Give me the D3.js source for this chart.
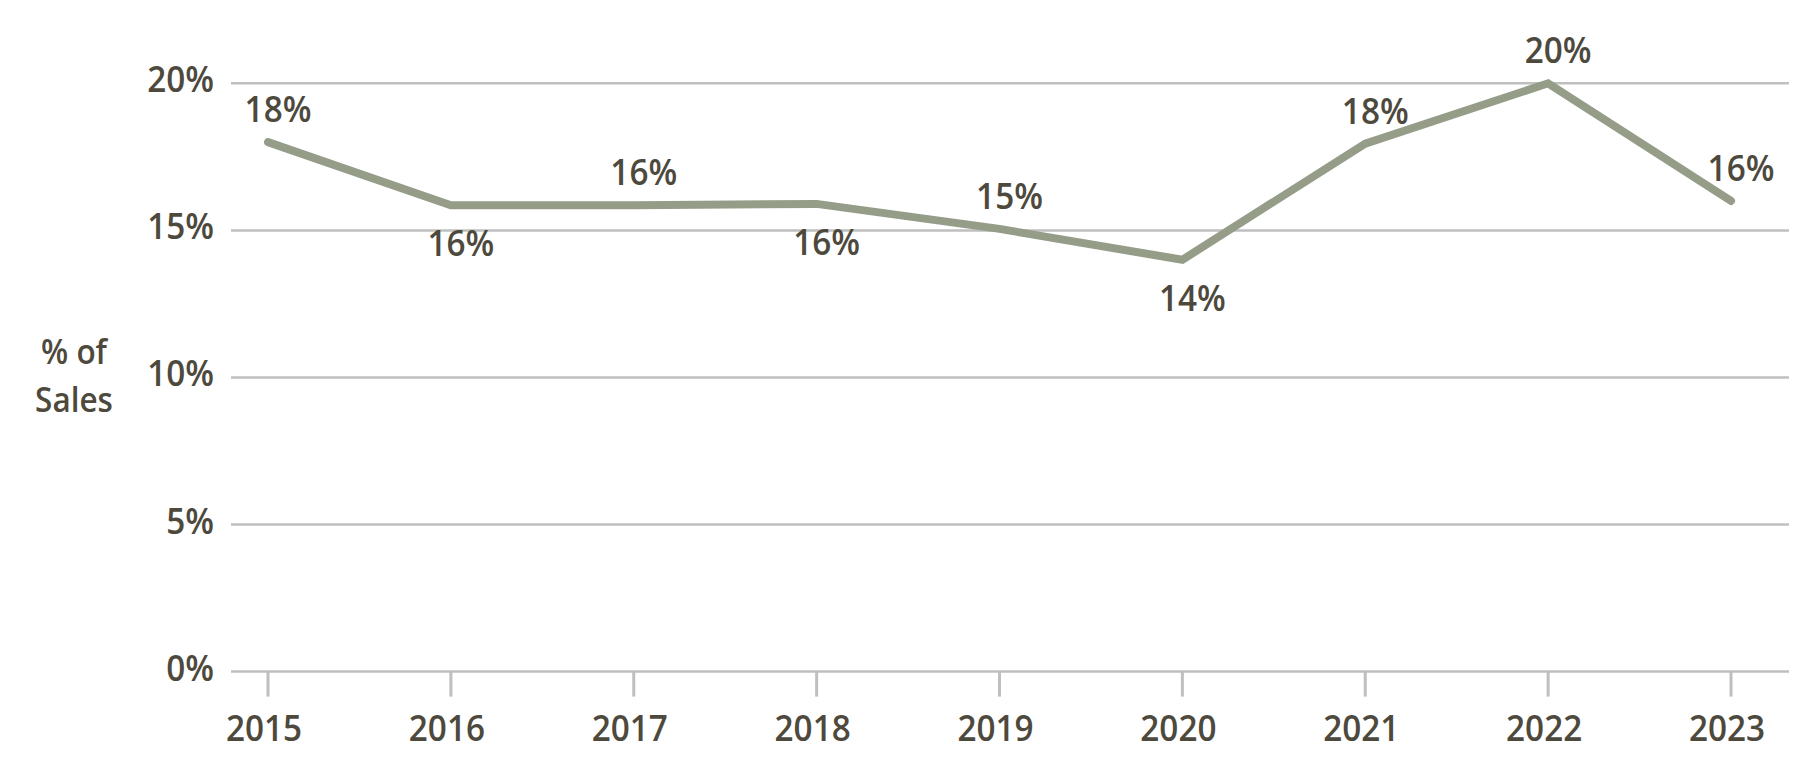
<!DOCTYPE html>
<html>
<head>
<meta charset="utf-8">
<title>% of Sales</title>
<style>
  body { margin: 0; background: #fff; }
  text { font-family: "Open Sans", "Noto Sans", sans-serif; font-weight: 600; fill: #4d493d; }
</style>
</head>
<body>
<div id="chart"></div>
<script src="https://cdnjs.cloudflare.com/ajax/libs/d3/7.8.5/d3.min.js"></script>
<script>

// data
var years = ["2015","2016","2017","2018","2019","2020","2021","2022","2023"];
var share = [18.0, 15.85, 15.85, 15.9, 15.05, 14.0, 17.95, 20.0, 16.0];
// where each data label sits relative to its point
var labelPlace = ["above","below","above","below","above","below","above","above","above"];
var yTicks = [0, 5, 10, 15, 20];
var yTitle = ["% of", "Sales"];

var w = 1800, h = 774;
var fontSize = 37, squeeze = 0.9;   // the original face is a bit narrower than Open Sans

var svg = d3.select("#chart").append("svg")
    .attr("width", w).attr("height", h);

var x = d3.scalePoint().domain(years).range([268, 1731]);
var y = d3.scaleLinear().domain([0, 20]).range([671.6, 83.3]);

// put a text at (px,py), squeezed sideways around its anchor
function label(g, str, px, py, anchor, size) {
    return g.append("text")
        .attr("transform", "translate(" + px + "," + py + ") scale(" + squeeze + ",1)")
        .attr("text-anchor", anchor)
        .style("font-size", (size || fontSize) + "px")
        .text(str);
}

// gridlines
svg.append("g").selectAll("line")
    .data(yTicks)
    .enter().append("line")
    .attr("x1", 231).attr("x2", 1789)
    .attr("y1", function(d){ return y(d); })
    .attr("y2", function(d){ return y(d); })
    .attr("stroke", "#bfbfbf")
    .attr("stroke-width", 2.5);

// y tick labels
var yl = svg.append("g");
yTicks.forEach(function(d) {
    label(yl, d + "%", 214, y(d) + 9, "end");
});

// x axis tick marks + year labels
var xa = svg.append("g");
years.forEach(function(d) {
    xa.append("line")
        .attr("x1", x(d)).attr("x2", x(d))
        .attr("y1", y(0)).attr("y2", y(0) + 25)
        .attr("stroke", "#bfbfbf")
        .attr("stroke-width", 3);
    label(xa, d, x(d) - 4, 741, "middle");
});

// axis title on the left, two lines
var yt = svg.append("g");
yTitle.forEach(function(s, i) {
    label(yt, s, 74, 364 + i * 48, "middle", 35);
});

// the line
var pts = years.map(function(d, i){ return [x(d), y(share[i])]; });
svg.append("path")
    .attr("d", d3.line()(pts))
    .attr("fill", "none")
    .attr("stroke", "#959d89")
    .attr("stroke-width", 8)
    .attr("stroke-linecap", "round")
    .attr("stroke-linejoin", "miter");

// data labels
var fmt = d3.format(".0f");
var dl = svg.append("g");
years.forEach(function(d, i) {
    var py = y(share[i]);
    var by = labelPlace[i] == "above" ? py - 20 : py + 51;
    label(dl, fmt(share[i]) + "%", x(d) + 10, by, "middle");
});

</script>
</body>
</html>
